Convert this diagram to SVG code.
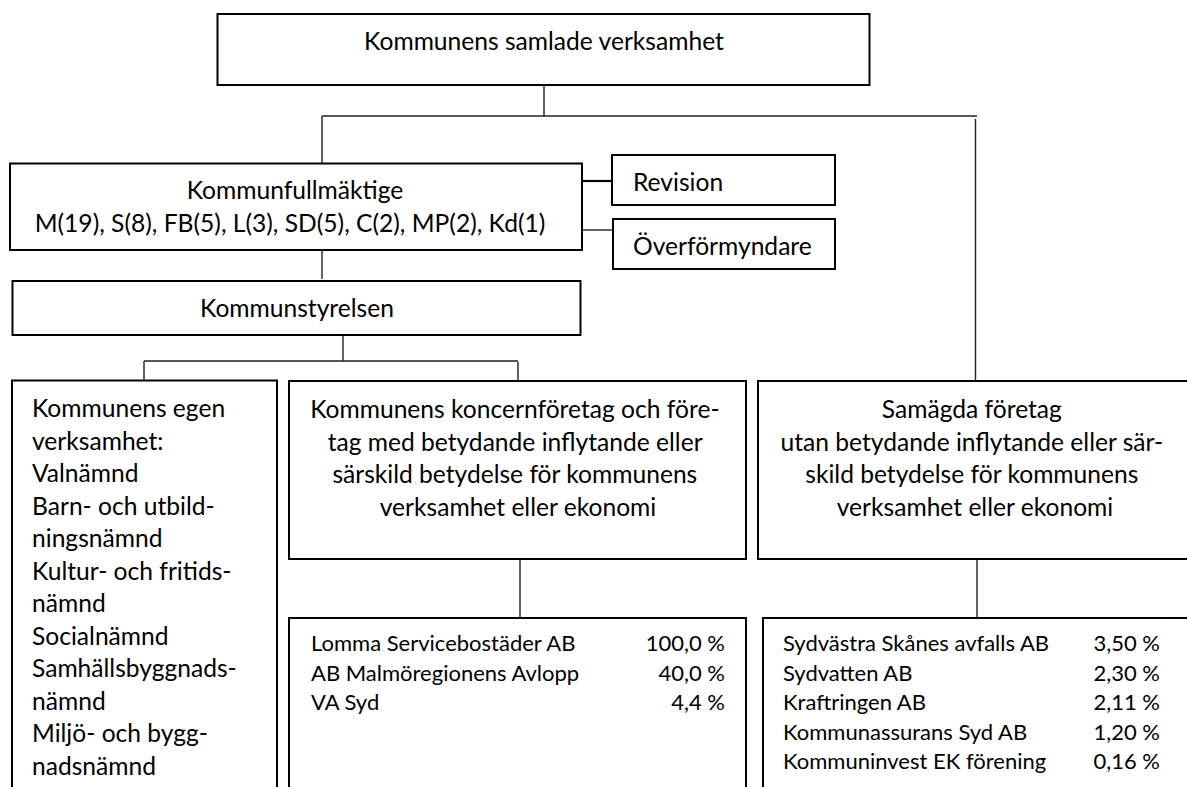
<svg xmlns="http://www.w3.org/2000/svg" width="1187" height="787" viewBox="0 0 1187 787">
<style>
.box{fill:#fff;stroke:#000;stroke-width:2}
.con{fill:none;stroke:#222;stroke-width:1.4}
.t{font-family:Lato,"Liberation Sans",sans-serif;font-size:24.6px;fill:#000}
.s{font-family:Lato,"Liberation Sans",sans-serif;font-size:22px;fill:#000}
.c{text-anchor:middle}
.e{text-anchor:end}
</style>
<rect width="1187" height="787" fill="#fff"/>
<g id="connectors">
<path class="con" d="M544 85V116M322 116H977M322 116V163M975.5 119V381"/>
<path class="con" d="M582 181H612" style="stroke-width:2.2;stroke:#000"/>
<path class="con" d="M582 230H613"/>
<path class="con" d="M322 250V279"/>
<path class="con" d="M343 336V361M144 361H518M144 361V380M518 362V380"/>
<path class="con" d="M520 559V618"/>
<path class="con" d="M977 559V618"/>
</g>
<g id="top">
<rect class="box" x="217.5" y="14" width="652" height="71"/>
<text class="t c" x="544" y="50">Kommunens samlade verksamhet</text>
</g>
<g id="kf">
<rect class="box" x="10" y="163.5" width="572" height="86.5"/>
<text class="t c" x="295" y="199">Kommunfullmäktige</text>
<text class="t c" x="290" y="232">M(19), S(8), FB(5), L(3), SD(5), C(2), MP(2), Kd(1)</text>
</g>
<g id="revision">
<rect class="box" x="612" y="155" width="223" height="50"/>
<text class="t" x="633" y="191">Revision</text>
</g>
<g id="overformyndare">
<rect class="box" x="613" y="219" width="222" height="50"/>
<text class="t" x="633" y="255">Överförmyndare</text>
</g>
<g id="ks">
<rect class="box" x="12.5" y="281" width="568" height="54"/>
<text class="t c" x="297" y="317">Kommunstyrelsen</text>
</g>
<g id="egen">
<rect class="box" x="12" y="380.5" width="265" height="430"/>
<text class="t" x="32">
<tspan x="32" y="417">Kommunens egen</tspan>
<tspan x="32" y="449.5">verksamhet:</tspan>
<tspan x="32" y="482">Valnämnd</tspan>
<tspan x="32" y="514.5">Barn- och utbild-</tspan>
<tspan x="32" y="547">ningsnämnd</tspan>
<tspan x="32" y="579.5">Kultur- och fritids-</tspan>
<tspan x="32" y="612">nämnd</tspan>
<tspan x="32" y="644.5">Socialnämnd</tspan>
<tspan x="32" y="677">Samhällsbyggnads-</tspan>
<tspan x="32" y="709.5">nämnd</tspan>
<tspan x="32" y="742">Miljö- och bygg-</tspan>
<tspan x="32" y="774.5">nadsnämnd</tspan>
</text>
</g>
<g id="koncern">
<rect class="box" x="289" y="381" width="457" height="178"/>
<text class="t c">
<tspan x="518" y="418">Kommunens koncernföretag och före-</tspan>
<tspan x="518" y="450.5">tag med betydande inflytande eller</tspan>
<tspan x="518" y="483">särskild betydelse för kommunens</tspan>
<tspan x="518" y="515.5">verksamhet eller ekonomi</tspan>
</text>
</g>
<g id="samagda">
<rect class="box" x="758" y="381" width="440" height="178"/>
<text class="t c">
<tspan x="975" y="418">Samägda företag</tspan>
<tspan x="975" y="450.5">utan betydande inflytande eller sär-</tspan>
<tspan x="975" y="483">skild betydelse för kommunens</tspan>
<tspan x="975" y="515.5">verksamhet eller ekonomi</tspan>
</text>
</g>
<g id="koncern-list">
<rect class="box" x="289" y="618" width="457" height="200"/>
<text class="s" x="311" y="651">Lomma Servicebostäder AB</text>
<text class="s e" x="725" y="651">100,0 %</text>
<text class="s" x="311" y="680.5">AB Malmöregionens Avlopp</text>
<text class="s e" x="725" y="680.5">40,0 %</text>
<text class="s" x="311" y="710">VA Syd</text>
<text class="s e" x="725" y="710">4,4 %</text>
</g>
<g id="samagda-list">
<rect class="box" x="763" y="618" width="440" height="200"/>
<text class="s" x="783" y="651">Sydvästra Skånes avfalls AB</text>
<text class="s e" x="1160" y="651">3,50 %</text>
<text class="s" x="783" y="680.5">Sydvatten AB</text>
<text class="s e" x="1160" y="680.5">2,30 %</text>
<text class="s" x="783" y="710">Kraftringen AB</text>
<text class="s e" x="1160" y="710">2,11 %</text>
<text class="s" x="783" y="739.5">Kommunassurans Syd AB</text>
<text class="s e" x="1160" y="739.5">1,20 %</text>
<text class="s" x="783" y="769">Kommuninvest EK förening</text>
<text class="s e" x="1160" y="769">0,16 %</text>
</g>
</svg>
